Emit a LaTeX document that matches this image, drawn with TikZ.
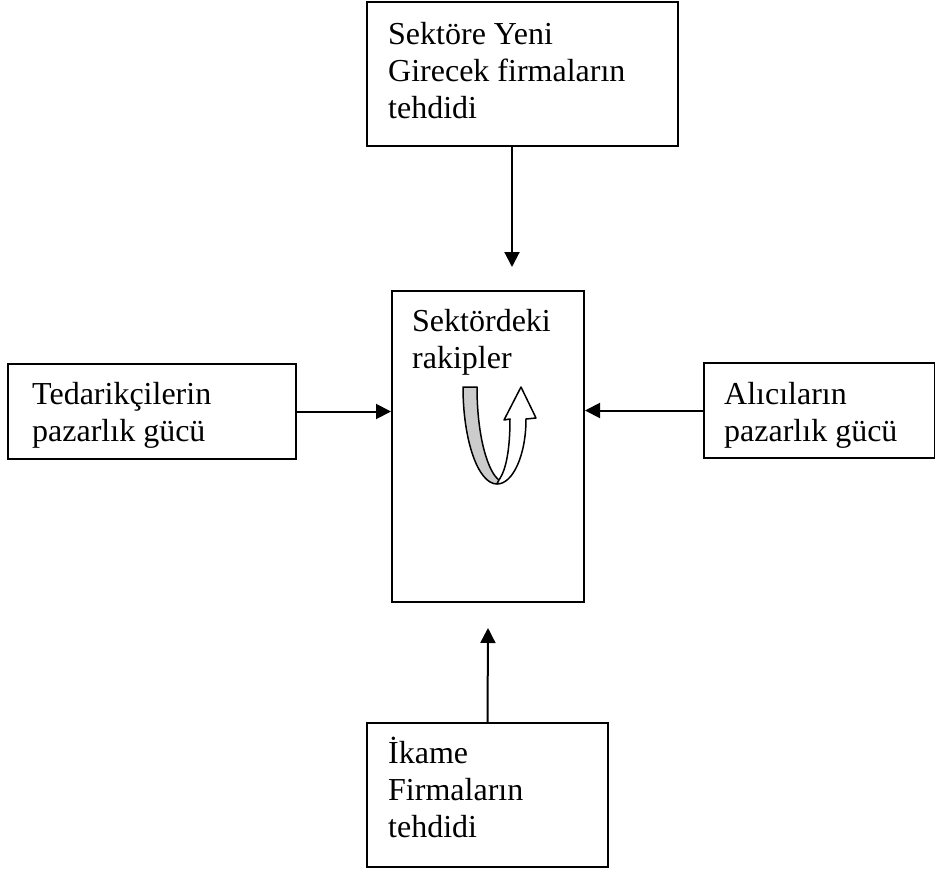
\documentclass[tikz,border=0pt]{standalone}
\usepackage{fontspec}
\setmainfont{Liberation Serif}
\usetikzlibrary{arrows.meta}

\begin{document}
\begin{tikzpicture}[x=1pt, y=-1pt,
  box/.style={draw, line width=2pt, inner sep=0pt},
  txt/.style={anchor=base west, align=left, inner sep=0pt, font=\fontsize{32}{37}\selectfont},
  pil/.style={-{Triangle[length=15pt, width=15pt]}, line width=2pt}]
\useasboundingbox (0,0) rectangle (935,875);
% kutular
\node[box, minimum width=311pt, minimum height=144pt] (yeni) at (522.5,74) {};
\node[box, minimum width=192pt, minimum height=311pt] (rakip) at (488,446.5) {};
\node[box, minimum width=288pt, minimum height=95pt] (tedarik) at (152,411.5) {};
\node[box, minimum width=231pt, minimum height=95pt] (alici) at (819.5,410.5) {};
\node[box, minimum width=241pt, minimum height=144pt] (ikame) at (487.5,795) {};
% yazilar (son satirin taban cizgisi)
\node[txt] (yenit) at (388,118) {Sektöre Yeni\\Girecek firmaların\\tehdidi};
\node[txt] (rakipt) at (412,368) {Sektördeki\\rakipler};
\node[txt] (tedarikt) at (32,441) {Tedarikçilerin\\pazarlık gücü};
\node[txt] (alicit) at (724,441) {Alıcıların\\pazarlık gücü};
\node[txt] (ikamet) at (388,837) {İkame\\Firmaların\\tehdidi};
% oklar
\coordinate (yeniuc) at (512,267);
\coordinate (ikameuc) at (488,628);
\draw[pil] (yeni.south -| yeniuc) -- (yeniuc);
\draw[pil] (ikame.north) -- (ikameuc);
\draw[pil] (tedarik.east) -- (tedarik.east -| rakip.west);
\draw[pil] (alici.west) -- (alici.west -| rakip.east);
% donen ok
\filldraw[fill=gray!40, line width=1.5pt, line join=round] (463,387) -- (477,387)
  .. controls (477,437) and (488,472) .. (499,480) -- (497,484)
  .. controls (478,484) and (463,440) .. (463,387) -- cycle;
\filldraw[fill=white, line width=1.5pt, line join=round] (497,484)
  .. controls (513,484) and (526,455) .. (526,419) -- (536,418) -- (521,387)
  -- (504,420) -- (510,419) .. controls (510,450) and (506,470) .. (499,480) -- cycle;
\end{tikzpicture}
\end{document}
